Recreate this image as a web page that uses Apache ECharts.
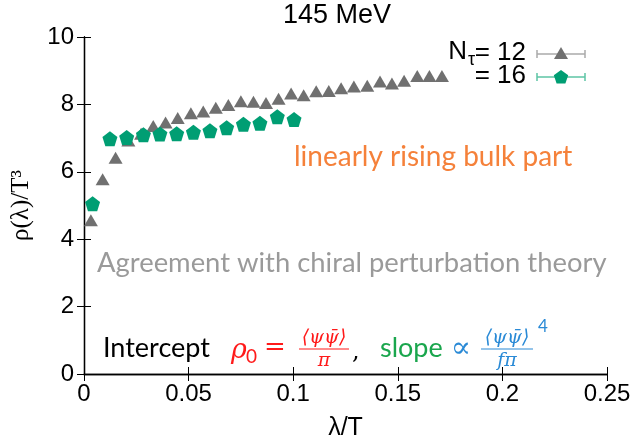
<!DOCTYPE html>
<html>
<head>
<meta charset="utf-8">
<script src="https://cdn.jsdelivr.net/npm/echarts@6/dist/echarts.min.js"></script>
<style>html,body{margin:0;padding:0;background:#fff}#c{width:639px;height:446px}</style>
</head>
<body>
<div id="c"></div>
<script>
// ---- data ----
var nt12X = [0.0033,0.0089,0.0151,0.0212,0.0273,0.0331,0.0390,0.0448,0.0511,0.0570,0.0630,0.0690,0.0750,0.0810,0.0870,0.0930,0.0990,0.1050,0.1110,0.1170,0.1229,0.1290,0.1354,0.1415,0.1472,0.1530,0.1593,0.1651,0.1711];
var nt12Y = [4.56,5.78,6.42,6.93,7.13,7.36,7.46,7.60,7.74,7.79,7.90,7.98,8.09,8.08,8.04,8.17,8.32,8.27,8.39,8.40,8.48,8.53,8.55,8.68,8.62,8.70,8.84,8.84,8.84];
var nt16X = [0.0041,0.0124,0.0204,0.0284,0.0363,0.0443,0.0523,0.0602,0.0682,0.0762,0.0841,0.0924,0.1004];
var nt16Y = [5.05,6.98,7.02,7.10,7.12,7.13,7.17,7.22,7.31,7.41,7.44,7.63,7.55];
var xTicks = [0,0.05,0.1,0.15,0.2,0.25];
var yTicks = [0,2,4,6,8,10];
var titleText = '145 MeV';

var GRAY = '#707070', GREEN = '#009e73';
var PENT = 'path://M0,-1 L0.951,-0.309 L0.588,0.809 L-0.588,0.809 L-0.951,-0.309 Z';
var SANS = 'Liberation Sans';
var ANN = 'Lato';
var RED = '#ff1a1a', BLUE = '#2a8ad6';

function pairs(xs, ys){ return xs.map(function(x,i){ return [x, ys[i]]; }); }
function txt(s, x, y, font, color, align){
  return {type:'text', x:x, y:y, z:10, style:{text:s, fill:color, font:font, textAlign:align||'left', textVerticalAlign:'middle'}};
}

var chart = echarts.init(document.getElementById('c'), null, {renderer:'canvas'});
var axisCommon = {
  axisLine:{show:true, lineStyle:{color:'#000', width:1.3}},
  axisTick:{show:true, inside:true, length:7, lineStyle:{color:'#000', width:1}},
  splitLine:{show:false}
};
function mfrac(num, den, cx, color, w){
  return [
    txt(num, cx, 338, 'italic 19px "DejaVu Serif"', color, 'center'),
    {type:'line', z:10, shape:{x1:cx-w/2, y1:349, x2:cx+w/2, y2:349}, style:{stroke:color, lineWidth:1.2}},
    txt(den, cx, 361, 'italic 19px "DejaVu Serif"', color, 'center')
  ];
}
var graphics = [
  txt(titleText, 337, 16, '27px "'+SANS+'"', '#000', 'center'),
  // legend
  txt('= 12', 526, 53, '26px "'+SANS+'"', '#000', 'right'),
  txt('\u03c4', 475, 60, '18px "'+SANS+'"', '#000', 'right'),
  txt('N', 467, 52, '26px "'+SANS+'"', '#000', 'right'),
  txt('= 16', 526, 76, '26px "'+SANS+'"', '#000', 'right'),
  {type:'line', shape:{x1:537,y1:54,x2:585,y2:54}, style:{stroke:'#aaaaaa', lineWidth:1.5}},
  {type:'line', shape:{x1:537,y1:50,x2:537,y2:58}, style:{stroke:'#aaaaaa', lineWidth:1.5}},
  {type:'line', shape:{x1:585,y1:50,x2:585,y2:58}, style:{stroke:'#aaaaaa', lineWidth:1.5}},
  {type:'polygon', shape:{points:[[561,47],[568,59],[554,59]]}, style:{fill:GRAY}},
  {type:'line', shape:{x1:537,y1:77,x2:585,y2:77}, style:{stroke:'#5cc4a4', lineWidth:1.5}},
  {type:'line', shape:{x1:537,y1:73,x2:537,y2:81}, style:{stroke:'#5cc4a4', lineWidth:1.5}},
  {type:'line', shape:{x1:585,y1:73,x2:585,y2:81}, style:{stroke:'#5cc4a4', lineWidth:1.5}},
  {type:'polygon', shape:{points:[[561,70],[568.2,75.2],[565.4,83.5],[556.6,83.5],[553.8,75.2]]}, style:{fill:GREEN}},
  // annotations
  txt('linearly rising bulk part', 294, 157, '28px "'+ANN+'"', '#f5813a'),
  txt('Agreement with chiral perturbation theory', 97, 263, '27.4px "'+ANN+'"', '#9a9a9a'),
  txt('Intercept', 103, 348, '27px "'+ANN+'"', '#000'),
  txt('\u03c1', 231, 351, 'italic 27px "DejaVu Serif"', RED),
  txt('0', 246, 357, '19px "'+ANN+'"', RED),
  txt('=', 264, 348, '26px "DejaVu Serif"', RED),
  txt(',', 352, 353, '24px "DejaVu Serif"', '#000'),
  txt('slope', 380, 348, '27px "'+ANN+'"', '#1aa64d'),
  txt('\u221d', 461, 349, '30px "DejaVu Serif"', BLUE, 'center'),
  txt('4', 538, 327, '17px "'+ANN+'"', BLUE)
];
graphics = graphics.concat(mfrac('\u27e8\u03c8\u03c8\u0304\u27e9', '\u03c0', 324, RED, 50));
graphics = graphics.concat(mfrac('\u27e8\u03c8\u03c8\u0304\u27e9', 'f\u03c0', 507, BLUE, 52));

var option = {
  animation:false,
  backgroundColor:'#fff',
  grid:{left:84, right:32, top:37, bottom:54, containLabel:false, show:false},
  xAxis:[
    Object.assign({type:'value', min:xTicks[0], max:xTicks[xTicks.length-1], interval:0.05, position:'bottom',
      name:'\u03bb/T', nameLocation:'middle', nameGap:42,
      nameTextStyle:{fontFamily:SANS, fontSize:25, color:'#000'},
      axisLabel:{fontFamily:SANS, fontSize:24, color:'#000', margin:8,
        formatter:function(v){ return String(+v.toFixed(2)); }}}, axisCommon),
    Object.assign({type:'value', min:xTicks[0], max:xTicks[xTicks.length-1], interval:0.05, position:'top', axisLabel:{show:false}}, axisCommon)
  ],
  yAxis:[
    Object.assign({type:'value', min:yTicks[0], max:yTicks[yTicks.length-1], interval:2, position:'left',
      name:'\u03c1(\u03bb)/T\u00b3', nameLocation:'middle', nameGap:50, nameRotate:90,
      nameTextStyle:{fontFamily:'Liberation Serif', fontSize:25, color:'#000'},
      axisLabel:{fontFamily:SANS, fontSize:24, color:'#000', margin:10}}, axisCommon),
    Object.assign({type:'value', min:yTicks[0], max:yTicks[yTicks.length-1], interval:2, position:'right', axisLabel:{show:false}}, axisCommon)
  ],
  series:[
    {type:'scatter', name:'12', data:pairs(nt12X, nt12Y), symbol:'triangle', symbolSize:[14,12], itemStyle:{color:GRAY, opacity:1}, z:3},
    {type:'scatter', name:'16', data:pairs(nt16X, nt16Y), symbol:PENT, symbolSize:15, itemStyle:{color:GREEN, opacity:1}, z:4}
  ],
  graphic:graphics
};
chart.setOption(option);
</script>
</body>
</html>
